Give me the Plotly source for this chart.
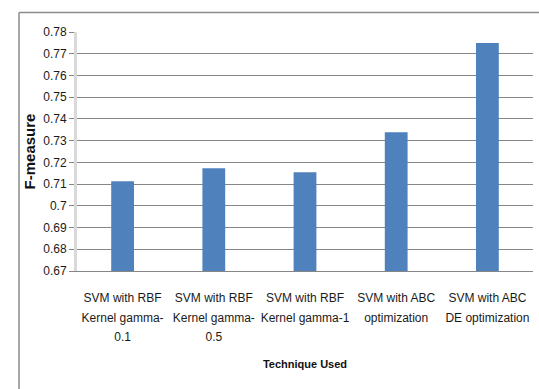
import plotly.graph_objects as go

# F-measure per classification technique
techniques = [
    ["SVM with  RBF", "Kernel gamma-", "0.1"],
    ["SVM with  RBF", "Kernel gamma-", "0.5"],
    ["SVM with  RBF", "Kernel gamma-1"],
    ["SVM with ABC", "optimization"],
    ["SVM with ABC", "DE optimization"],
]
f_measure = [0.7113, 0.7173, 0.7155, 0.7339, 0.7749]
y_ticks = [0.67, 0.68, 0.69, 0.70, 0.71, 0.72, 0.73, 0.74, 0.75, 0.76, 0.77, 0.78]
y_tick_text = ["0.67", "0.68", "0.69", "0.7", "0.71", "0.72", "0.73", "0.74",
               "0.75", "0.76", "0.77", "0.78"]

sans = "Liberation Sans, Arial, sans-serif"

# category keys and the wrapped labels shown under each bar;
# a larger base font gives roomier line spacing for the smaller text
keys = [" ".join(parts) for parts in techniques]
labels = ["<br>".join('<span style="font-size:12px">%s</span>' % p.replace("  ", " ")
                      for p in parts) for parts in techniques]

fig = go.Figure(
    go.Bar(
        x=keys,
        y=f_measure,
        marker=dict(color="#4f81bd", line=dict(width=0)),
    )
)

fig.update_layout(
    width=539,
    height=389,
    margin=dict(l=77, r=6, t=32, b=118),
    paper_bgcolor="white",
    plot_bgcolor="white",
    bargap=0.75,
    showlegend=False,
    font=dict(family=sans, color="#1a1a1a"),
    shapes=[
        # outer chart frame (left and top edges visible)
        dict(type="line", xref="paper", yref="paper",
             x0=-0.1272, x1=-0.1272, y0=-0.51, y1=1.082,
             line=dict(color="#8c8c8c", width=1.5)),
        dict(type="line", xref="paper", yref="paper",
             x0=-0.1272, x1=1.02, y0=1.082, y1=1.082,
             line=dict(color="#8c8c8c", width=1.5)),
    ],
)

fig.update_xaxes(
    showgrid=False,
    showline=True,
    linecolor="#868686",
    linewidth=1,
    ticks="",
    tickmode="array",
    tickvals=keys,
    ticktext=labels,
    tickfont=dict(family=sans, size=15, color="#1a1a1a"),
    tickangle=0,
    ticklabelstandoff=12,
    title=dict(text="<b>Technique Used</b>",
               font=dict(family=sans, size=11, color="#111111"),
               standoff=17),
)

fig.update_yaxes(
    range=[0.67, 0.78],
    tickvals=y_ticks,
    ticktext=y_tick_text,
    showgrid=True,
    gridcolor="#868686",
    gridwidth=1,
    showline=True,
    linecolor="#d9d9d9",
    linewidth=3,
    ticks="outside",
    ticklen=5,
    tickcolor="#868686",
    tickfont=dict(family=sans, size=12, color="#1a1a1a"),
    zeroline=False,
    title=dict(text="<b>F-measure</b>",
               font=dict(family=sans, size=15, color="#111111"),
               standoff=4),
)

fig.write_html("out.html")
